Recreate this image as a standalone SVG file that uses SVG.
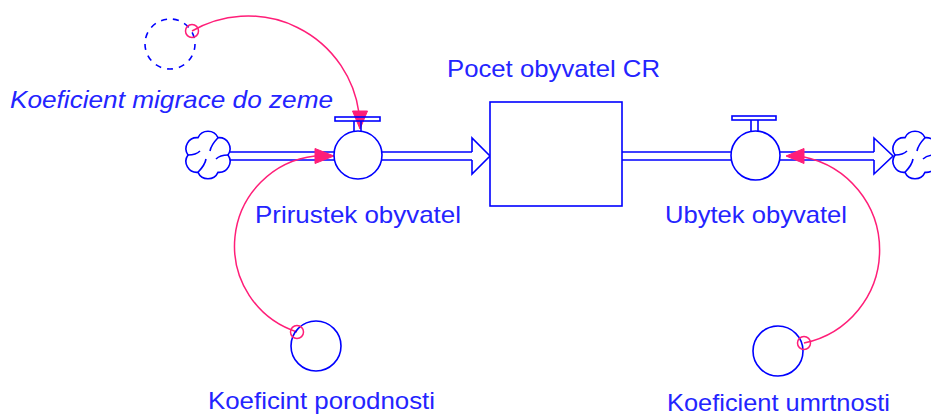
<svg xmlns="http://www.w3.org/2000/svg" width="931" height="417" viewBox="0 0 931 417">
<defs>
<style>
.ln{fill:none;stroke:#0000ff;stroke-width:1.6}
.wf{fill:#ffffff;stroke:#0000ff;stroke-width:1.6}
.lk{fill:none;stroke:#ff1e78;stroke-width:1.5}
.ah{fill:#ff1e78;stroke:#ff1e78;stroke-width:1}
.tx{font-family:"Liberation Sans",Arial,sans-serif;font-size:24px;fill:#2424ff}
.it{font-style:italic}
</style>
<g id="cloudShape">
<path class="wf" d="M20,0 A11,11 0 0 1 10,17.3 A11,11 0 0 1 -10,17.3 A11,11 0 0 1 -20,0 A11,11 0 0 1 -10,-17.3 A11,11 0 0 1 10,-17.3 A11,11 0 0 1 20,0 Z"/>
<path class="ln" d="M10,-17.3 Q3,-10 2,-4 M20,0 Q12,0 8,4 M-10,17.3 Q-3,10 -2,4 M-20,0 Q-12,0 -8,-4"/>
</g>
</defs>
<rect width="931" height="417" fill="#ffffff"/>

<g id="connectors">
<path class="ln" d="M230,152 H334 M230,160 H334"/>
<path class="ln" d="M382,152 H472 M382,160 H472"/>
<path class="ln" d="M472,152 V138 L490,156 L472,174 V160"/>
<path class="ln" d="M622,152 H731 M622,160 H731"/>
<path class="ln" d="M780,152 H874 M780,160 H874"/>
<path class="ln" d="M874,152 V138 L893,156 L874,174 V160"/>
<path class="lk" d="M192,31 A112,112 0 0 1 359,113"/>
<polygon class="ah" points="360,129 352.5,111 367.5,111"/>
<path class="lk" d="M297,332 A90.5,90.5 0 0 1 315,156"/>
<polygon class="ah" points="334,156 315,148.5 315,163.5"/>
<path class="lk" d="M804,343 A95,95 0 0 0 804,157"/>
<polygon class="ah" points="786,156 804,148.5 804,163.5"/>
</g>

<g id="cloud-source">
<use href="#cloudShape" transform="translate(208,155)"/>
</g>
<g id="cloud-sink">
<use href="#cloudShape" transform="translate(915,155)"/>
</g>

<g id="stock-pocet">
<rect class="wf" x="490" y="102" width="132" height="104"/>
<text class="tx" x="447" y="77" textLength="213" lengthAdjust="spacingAndGlyphs">Pocet obyvatel CR</text>
</g>

<g id="flow-prirustek">
<rect class="ln" x="335" y="117" width="45" height="4"/>
<path class="ln" d="M354,121 V131 M361,121 V131"/>
<circle class="wf" cx="358" cy="155" r="24"/>
<text class="tx" x="255" y="223" textLength="206" lengthAdjust="spacingAndGlyphs">Prirustek obyvatel</text>
</g>

<g id="flow-ubytek">
<rect class="ln" x="732" y="116" width="44" height="4"/>
<path class="ln" d="M751,120 V131 M758,120 V131"/>
<circle class="wf" cx="755.5" cy="155.5" r="24.5"/>
<text class="tx" x="665" y="223" textLength="182" lengthAdjust="spacingAndGlyphs">Ubytek obyvatel</text>
</g>

<g id="aux-migrace">
<circle class="ln" cx="170" cy="44" r="25" stroke-dasharray="6,6"/>
<circle class="lk" cx="192" cy="31" r="6.5"/>
<text class="tx it" x="10" y="108" textLength="323" lengthAdjust="spacingAndGlyphs">Koeficient migrace do zeme</text>
</g>

<g id="aux-porodnosti">
<circle class="ln" cx="316" cy="346" r="25"/>
<circle class="lk" cx="297" cy="332" r="6.5"/>
<text class="tx" x="208" y="409" textLength="227" lengthAdjust="spacingAndGlyphs">Koeficint porodnosti</text>
</g>

<g id="aux-umrtnosti">
<circle class="ln" cx="778" cy="351" r="25"/>
<circle class="lk" cx="804" cy="343" r="6.5"/>
<text class="tx" x="667" y="411" textLength="223" lengthAdjust="spacingAndGlyphs">Koeficient umrtnosti</text>
</g>
</svg>
